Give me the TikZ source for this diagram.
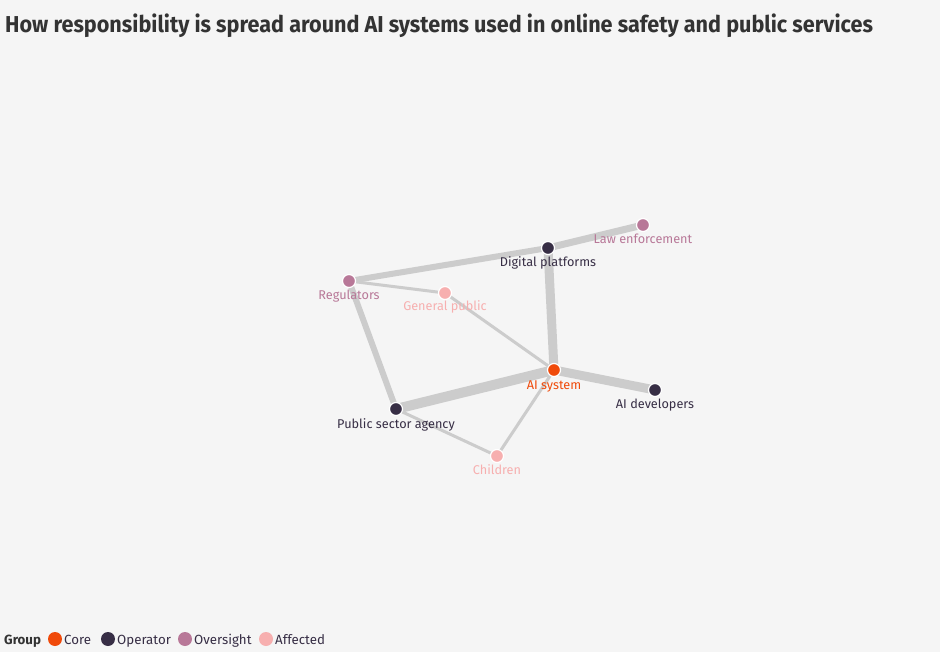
\documentclass[tikz,border=0pt]{standalone}
\usepackage{fontspec}
\setmainfont{Fira Sans}
\definecolor{bg}{HTML}{F5F5F5}
\definecolor{core}{HTML}{F04A0A}
\definecolor{operator}{HTML}{372E45}
\definecolor{oversight}{HTML}{B87898}
\definecolor{affected}{HTML}{F7AFAF}
\definecolor{edgec}{HTML}{CCCCCC}
\definecolor{titlec}{HTML}{333333}
\begin{document}
\begin{tikzpicture}[x=1pt,y=-1pt,
  dot/.style={circle,draw=white,line width=1.2pt,minimum size=13pt,inner sep=0pt},
  lbl/.style={font=\fontsize{12.7}{14}\selectfont,inner sep=0pt,anchor=base},
  leg/.style={anchor=base west,inner sep=0pt,text=operator,font=\fontsize{13.3}{15}\selectfont},
  legdot/.style={circle,inner sep=0pt,minimum size=14pt},
  link/.style={draw=edgec,line cap=butt}]
\fill[bg] (0,0) rectangle (940,652);
\useasboundingbox (0,0) rectangle (940,652);
\node[anchor=base west,inner sep=0pt,text=titlec] (title) at (5,33) {\fontsize{23}{26}\selectfont\bfseries\scalebox{0.94}[1]{How responsibility is spread around AI systems used in online safety and public services}};
% node positions
\coordinate (pLE) at (643,225);
\coordinate (pDP) at (548,248);
\coordinate (pRG) at (349,281);
\coordinate (pGP) at (445,293);
\coordinate (pAI) at (554,370);
\coordinate (pAD) at (655,390);
\coordinate (pPS) at (396,409);
\coordinate (pCH) at (497,456);
% edges
\draw[link,line width=3pt] (pRG) -- (pGP);
\draw[link,line width=3pt] (pGP) -- (pAI);
\draw[link,line width=3pt] (pPS) -- (pCH);
\draw[link,line width=3pt] (pAI) -- (pCH);
\draw[link,line width=6pt] (pRG) -- (pDP);
\draw[link,line width=7pt] (pDP) -- (pLE);
\draw[link,line width=6pt] (pRG) -- (pPS);
\draw[link,line width=9pt] (pDP) -- (pAI);
\draw[link,line width=10pt] (pAI) -- (pPS);
\draw[link,line width=9pt] (pAI) -- (pAD);
% nodes
\node[dot,fill=oversight] (LE) at (pLE) {};
\node[dot,fill=operator] (DP) at (pDP) {};
\node[dot,fill=oversight] (RG) at (pRG) {};
\node[dot,fill=affected] (GP) at (pGP) {};
\node[dot,fill=core] (AI) at (pAI) {};
\node[dot,fill=operator] (AD) at (pAD) {};
\node[dot,fill=operator] (PS) at (pPS) {};
\node[dot,fill=affected] (CH) at (pCH) {};
% labels
\node[lbl,text=oversight] (tLE) at (643,244) {Law enforcement};
\node[lbl,text=operator] (tDP) at (548,267) {Digital platforms};
\node[lbl,text=oversight] (tRG) at (349,300) {Regulators};
\node[lbl,text=affected] (tGP) at (445,311) {General public};
\node[lbl,text=core] (tAI) at (554,389) {AI system};
\node[lbl,text=operator] (tAD) at (655,408) {AI developers};
\node[lbl,text=operator] (tPS) at (396,428) {Public sector agency};
\node[lbl,text=affected] (tCH) at (497,474) {Children};
% legend
\node[leg,text=titlec,font=\fontsize{13.3}{15}\selectfont\bfseries] (lg) at (4,644) {Group};
\node[legdot,fill=core] (l1) at (55,639) {};
\node[leg] (l1t) at (64,644) {Core};
\node[legdot,fill=operator] (l2) at (108,639) {};
\node[leg] (l2t) at (117,644) {Operator};
\node[legdot,fill=oversight] (l3) at (185,639) {};
\node[leg] (l3t) at (194,644) {Oversight};
\node[legdot,fill=affected] (l4) at (266,639) {};
\node[leg] (l4t) at (275,644) {Affected};
\end{tikzpicture}
\end{document}
